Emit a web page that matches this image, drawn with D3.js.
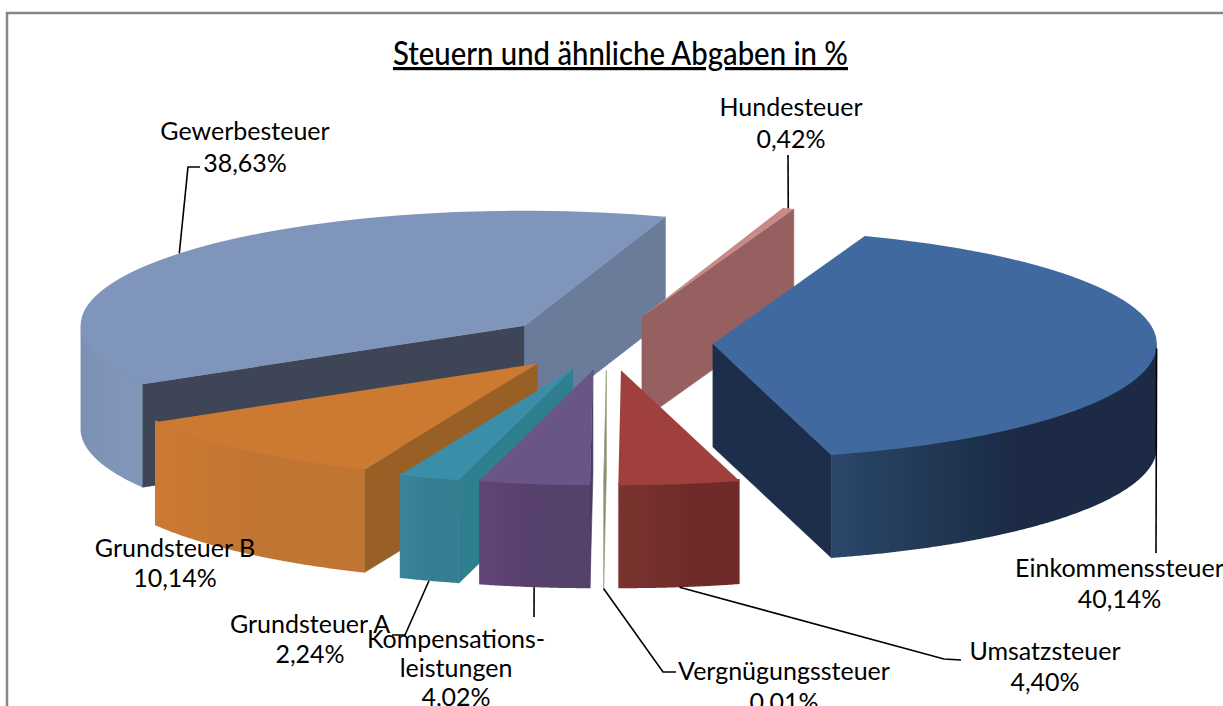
<!DOCTYPE html>
<html><head><meta charset="utf-8">
<script src="https://cdn.jsdelivr.net/npm/d3@7/dist/d3.min.js"></script>
<style>html,body{margin:0;padding:0;background:#fff;overflow:hidden}svg{display:block}text{font-family:Lato,sans-serif;fill:#000}</style>
</head><body><svg id="c" width="1223" height="706"></svg>
<script>
const categories = ["Einkommenssteuer","Umsatzsteuer","Vergnügungssteuer","Kompensationsleistungen","Grundsteuer A","Grundsteuer B","Gewerbesteuer","Hundesteuer"];
const values = [40.14,4.40,0.01,4.02,2.24,10.14,38.63,0.42];
const valueLabels = ["40,14%","4,40%","0,01%","4,02%","2,24%","10,14%","38,63%","0,42%"];
const labelLines = [["Einkommenssteuer"],["Umsatzsteuer"],["Vergnügungssteuer"],["Kompensations-","leistungen"],["Grundsteuer A"],["Grundsteuer B"],["Gewerbesteuer"],["Hundesteuer"]];
const title = "Steuern und ähnliche Abgaben in %";

// styles and layout, kept apart from the data
const topFill  = ["#3f6a9f","#a0403e","#a8ad8c","#6a5488","#3a8ea8","#cc7a32","#8095bb","#c98a87"];
const wallFrom = ["#2b4769","#7a3230","#c4c8ae","#5f4575","#388499","#cb7a34","#7c90b2","#95615f"];
const wallTo   = ["#1b2c45","#6f2c2a","#c4c8ae","#573f6c","#357d92","#c07433","#8195b8","#95615f"];
const cutStart = ["#1b2f4b","#74302e","#8c9070","#4e3a60","#2e7f90","#996028","#3d4557","#95615f"];
const cutEnd   = ["#1b2f4b","#74302e","#8c9070","#4e3a60","#2e7f90","#996028","#6a7c9a","#95615f"];
const drawOrder = [6,7,0,5,4,3,2,1];
const labelAt = [[1119.5,577],[1045,660],[784,680],[456,648],[310,633],[175,557],[245,140],[791,116]];
const lineGap = [31,31,31,29,30,30,32,32];
const leaderBends = [[[1156,553]],[[944,659],[961,660]],[[663,672],[676,672]],[[534,617]],[[405,635],[392,635]],null,[[188,167],[200,167]],[[788,155]]];

const W=1223,H=706,cx=607,cy=343,rx=444,ry=115,depth=103,explode=106;
const svg=d3.select("#c");
const defs=svg.append("defs");
defs.append("filter").attr("id","soft").attr("x","-5%").attr("y","-5%").attr("width","110%").attr("height","110%")
  .append("feGaussianBlur").attr("stdDeviation",0.7);
svg.append("path").attr("d",d3.line()([[7,H+5],[7,13],[W+5,13]])).attr("fill","none").attr("stroke","#868686").attr("stroke-width",2.5);

const arcs=d3.pie().sort(null).startAngle(20*Math.PI/180).endAngle(380*Math.PI/180)(values);
const pt=(o,a)=>[o[0]+rx*Math.sin(a),o[1]-ry*Math.cos(a)];
const down=p=>[p[0],p[1]+depth];
const poly=d3.line();
const apex=d=>{const m=(d.startAngle+d.endAngle)/2;return [cx+explode*Math.sin(m),cy-explode*(ry/rx)*Math.cos(m)];};
const topArc=d3.arc().innerRadius(0).outerRadius(rx);

// The wall's upper edge runs slightly under the top face so no seam shows between them.
const overlap=2;
function wall(o,a0,a1){
  const s=Math.max(a0,Math.PI/2),e=Math.min(a1,Math.PI*1.5);
  if(e<=s) return null;
  const t=d3.range(s,e,0.005).concat([e]);
  const up=t.map(a=>pt(o,a));
  const inner=up.map(p=>[p[0],p[1]-overlap]);
  return poly(inner.concat(up.slice().reverse().map(down)))+"Z";
}
function cut(o,a){const r=pt(o,a);return poly([o,r,down(r),down(o)])+"Z";}

drawOrder.forEach(i=>{
  const d=arcs[i],o=apex(d),g=svg.append("g").attr("class","slice").attr("filter","url(#soft)").datum(d);
  const gid="w"+i;
  const lg=defs.append("linearGradient").attr("id",gid);
  lg.append("stop").attr("offset","0").attr("stop-color",wallFrom[i]);
  lg.append("stop").attr("offset","0.55").attr("stop-color",wallTo[i]);
  lg.append("stop").attr("offset","1").attr("stop-color",wallTo[i]);
  if(Math.sin(d.startAngle)<0) g.append("path").attr("d",cut(o,d.startAngle)).attr("fill",cutStart[i]).attr("stroke",cutStart[i]).attr("stroke-width",0.6);
  if(Math.sin(d.endAngle)>0)  g.append("path").attr("d",cut(o,d.endAngle)).attr("fill",cutEnd[i]).attr("stroke",cutEnd[i]).attr("stroke-width",0.6);
  const w=wall(o,d.startAngle,d.endAngle);
  if(w) g.append("path").attr("d",w).attr("fill",`url(#${gid})`);
  g.append("path").attr("d",topArc(d))
    .attr("transform",`translate(${o[0]},${o[1]}) scale(1,${ry/rx})`)
    .attr("fill",topFill[i]);
});

// leader lines start on the slice rim at its mid angle
arcs.forEach((d,i)=>{
  if(!leaderBends[i]) return;
  const m=(d.startAngle+d.endAngle)/2;
  let s=pt(apex(d),m);
  if(Math.cos(m)<-0.5) s=down(s);
  svg.append("path").attr("d",poly([s,...leaderBends[i]])).attr("fill","none").attr("stroke","#000").attr("stroke-width",1.6);
});

categories.forEach((c,i)=>{
  const t=svg.append("text").attr("text-anchor","middle").attr("font-size",25).attr("data-category",c);
  labelLines[i].concat(valueLabels[i]).forEach((l,k)=>{
    t.append("tspan").attr("x",labelAt[i][0]).attr("y",labelAt[i][1]+k*lineGap[i]).text(l);
  });
});

svg.append("text").attr("x",620.5).attr("y",65).attr("text-anchor","middle").attr("font-size",32).attr("font-weight",500)
  .attr("text-decoration","underline").attr("textLength",455).attr("lengthAdjust","spacingAndGlyphs").text(title);
</script></body></html>
